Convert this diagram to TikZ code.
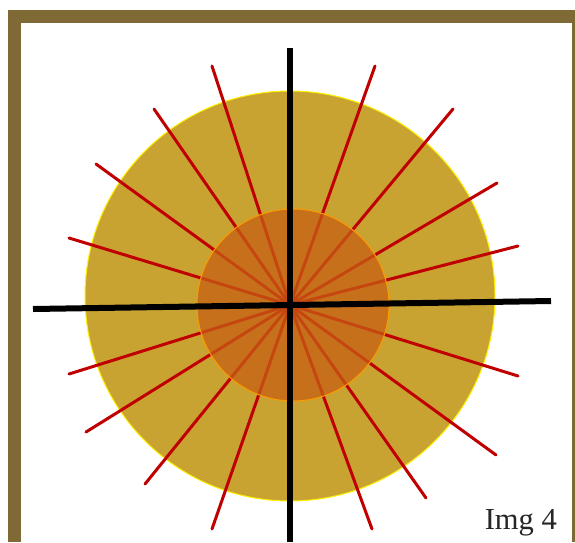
\documentclass[tikz,border=0pt]{standalone}
\usepackage{fontspec}
\setmainfont{Liberation Serif}
\definecolor{framebrown}{HTML}{7F6A35}
\definecolor{gold}{HTML}{C9A332}
\definecolor{innerorange}{HTML}{C75F15}
\definecolor{raysred}{HTML}{C00000}
\tikzset{
  ray/.style={draw=raysred, line width=3pt, line cap=round},
  axis/.style={draw=black, line width=6pt},
}
\begin{document}
\begin{tikzpicture}[x=1pt,y=-1pt]
\useasboundingbox (0,0) rectangle (575,542);
\fill[white] (0,0) rectangle (575,542);
\fill[framebrown] (7.5,9.5) rectangle (575,542);
\fill[white] (21,23) rectangle (571.7,542);
% outer disc
\node[circle, minimum size=410pt, inner sep=0pt, fill=gold, draw=yellow, line width=1pt] (outer) at (290,296) {};
\coordinate (c) at (290,305);
% rays
\foreach \i/\xx/\yy in {1/212/66,2/375/66,3/154/109,4/453/109,5/96/164,6/497/183,7/69/238,8/518/246,
  9/69/374,10/518/376,11/86/432,12/496/455,13/145/484,14/426/498,15/212/529,16/372/529}{
  \coordinate (r\i) at (\xx,\yy);
  \draw[ray] (c) -- (r\i);
}
% inner disc
\node[circle, minimum size=192pt, inner sep=0pt, fill=innerorange, fill opacity=0.75, draw=orange!80!yellow, line width=1pt] (inner) at (293,305) {};
% axes
\coordinate (vt) at (290,48);
\coordinate (vb) at (290,542);
\coordinate (hl) at (33,309);
\coordinate (hr) at (551,301);
\draw[axis] (vt) -- (vb);
\draw[axis] (hl) -- (hr);
\node[anchor=base east, font=\fontsize{30.5}{36}\selectfont, text=black!85, inner sep=0pt] (lbl) at (557,529) {Img 4};
\end{tikzpicture}
\end{document}
